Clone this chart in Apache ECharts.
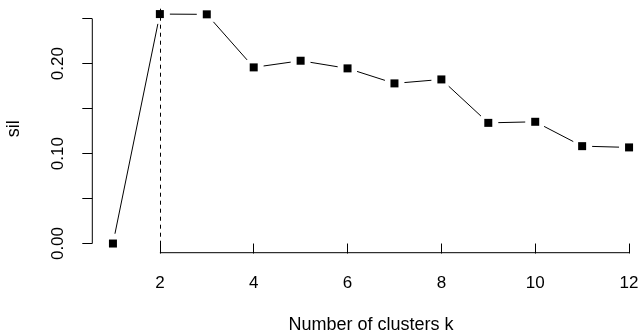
<!DOCTYPE html>
<html>
<head>
<meta charset="utf-8">
<script src="https://cdn.jsdelivr.net/npm/echarts@6/dist/echarts.min.js"></script>
<style>
html,body{margin:0;padding:0;background:#fff;}
#chart{width:640px;height:334px;}
</style>
</head>
<body>
<div id="chart"></div>
<script>
// Data
const ks = [1, 2, 3, 4, 5, 6, 7, 8, 9, 10, 11, 12];
const sil = [0.0000, 0.2552, 0.2549, 0.1959, 0.2033, 0.1948, 0.1781, 0.1825, 0.1342, 0.1354, 0.1083, 0.1069];
const xTicks = [2, 4, 6, 8, 10, 12];
const yTicks = [0, 0.05, 0.10, 0.15, 0.20, 0.25];
const yTickLabels = [0, 0.10, 0.20];
const bestK = 2;
const xTitle = 'Number of clusters k';
const yTitle = 'sil';

// Axis ranges (R-style 4% extension)
const xMin = 0.56, xMax = 12.44;
const yMin = -0.0102, yMax = 0.2654;

const font = '"Liberation Sans", Arial, sans-serif';
const chart = echarts.init(document.getElementById('chart'), null, {renderer: 'canvas'});

const points = ks.map((k, i) => [k, sil[i]]);
// consecutive point pairs, drawn as segments with R type="b" gaps
const segments = ks.slice(0, -1).map((k, i) => [k, sil[i], ks[i + 1], sil[i + 1]]);
const GAP = 10; // px gap around each point

function renderSegment(params, api) {
  const p0 = api.coord([api.value(0), api.value(1)]);
  const p1 = api.coord([api.value(2), api.value(3)]);
  const dx = p1[0] - p0[0], dy = p1[1] - p0[1];
  const len = Math.sqrt(dx * dx + dy * dy);
  if (len <= 2 * GAP) return null;
  const ux = dx / len, uy = dy / len;
  return {
    type: 'line',
    shape: {x1: p0[0] + ux * GAP, y1: p0[1] + uy * GAP, x2: p1[0] - ux * GAP, y2: p1[1] - uy * GAP},
    style: {stroke: '#000', lineWidth: 1}
  };
}

chart.setOption({
  animation: false,
  backgroundColor: '#fff',
  grid: {left: 92.3, top: 4.9, width: 557.4, height: 247.8, containLabel: false, outerBoundsMode: 'none'},
  xAxis: {
    type: 'value', min: xMin, max: xMax,
    name: xTitle, nameLocation: 'middle', nameGap: 63,
    nameTextStyle: {fontFamily: font, fontSize: 18, color: '#000'},
    axisLine: {show: false},
    splitLine: {show: false},
    axisTick: {show: true, inside: false, length: 10, customValues: xTicks, lineStyle: {color: '#000', width: 1}},
    axisLabel: {customValues: xTicks, margin: 22, fontFamily: font, fontSize: 17, color: '#000'}
  },
  yAxis: {
    type: 'value', min: yMin, max: yMax,
    name: yTitle, nameLocation: 'middle', nameGap: 69, nameRotate: 90,
    nameTextStyle: {fontFamily: font, fontSize: 18, color: '#000'},
    axisLine: {show: false},
    splitLine: {show: false},
    axisTick: {show: true, inside: false, length: 10, customValues: yTicks, lineStyle: {color: '#000', width: 1}},
    axisLabel: {customValues: yTickLabels, rotate: 90, margin: 25, fontFamily: font, fontSize: 17, color: '#000',
      formatter: v => v.toFixed(2)}
  },
  series: [
    {
      type: 'line', silent: true, symbol: 'none', clip: false,
      data: [[xTicks[0], yMin], [xTicks[xTicks.length - 1], yMin]],
      lineStyle: {color: '#000', width: 1}
    },
    {
      type: 'line', silent: true, symbol: 'none', clip: false,
      data: [[xMin, yTicks[0]], [xMin, yTicks[yTicks.length - 1]]],
      lineStyle: {color: '#000', width: 1}
    },
    {
      type: 'custom', silent: true, clip: false,
      data: segments,
      encode: {x: [0, 2], y: [1, 3]},
      renderItem: renderSegment
    },
    {
      type: 'scatter', silent: true, data: points, z: 6,
      symbol: 'rect', symbolSize: 8,
      itemStyle: {color: '#000', opacity: 1},
      markLine: {
        silent: true, symbol: 'none', label: {show: false},
        lineStyle: {color: '#000', width: 1, type: [4, 4]},
        data: [{xAxis: bestK}]
      }
    }
  ]
});
</script>
</body>
</html>
